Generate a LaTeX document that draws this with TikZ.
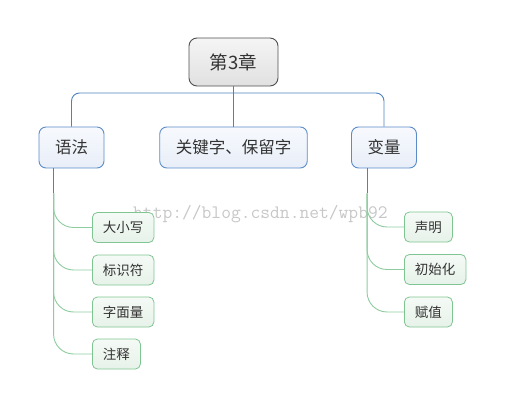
\documentclass[tikz,border=0pt]{standalone}
\usepackage{fontspec}
\newfontfamily\cjk{Noto Sans CJK SC}
\usetikzlibrary{calc}
\definecolor{txt}{HTML}{333333}
\definecolor{rootdraw}{HTML}{505050}
\definecolor{bluedraw}{HTML}{5B8CC8}
\definecolor{bluetop}{HTML}{F7F9FD}
\definecolor{bluebot}{HTML}{E8EEF8}
\definecolor{blueline}{HTML}{4F81BD}
\definecolor{greendraw}{HTML}{7FC592}
\definecolor{greenline}{HTML}{8DCC9E}
\definecolor{greentop}{HTML}{F5FAF6}
\definecolor{greenbot}{HTML}{E6F2E9}
\tikzset{
  rootbox/.style={draw=rootdraw, line width=0.9pt, rounded corners=8pt, top color=white!96!black, bottom color=white!88!black,
    minimum width=89pt, minimum height=48pt, inner sep=0pt, font=\cjk\fontsize{18.5}{20}\selectfont, text=txt},
  topicbox/.style={draw=bluedraw, line width=0.9pt, rounded corners=7pt, top color=bluetop, bottom color=bluebot,
    minimum height=41pt, inner xsep=16pt, inner ysep=0pt, font=\cjk\fontsize{16.5}{18}\selectfont, text=txt},
  leafbox/.style={draw=greendraw, line width=0.8pt, rounded corners=5pt, top color=greentop, bottom color=greenbot,
    minimum height=30pt, inner xsep=10.5pt, inner ysep=0pt, anchor=west, font=\cjk\fontsize{13.5}{15}\selectfont, text=txt},
  blueconn/.style={draw=blueline, line width=0.9pt},
  greenconn/.style={draw=greenline, line width=0.9pt, rounded corners=20pt},
}
\begin{document}
\begin{tikzpicture}[x=1pt,y=-1pt]
\useasboundingbox (0,0) rectangle (506,407);
\node[anchor=base west, text=black!22, font=\ttfamily\fontsize{19}{20}\selectfont, inner sep=0pt] (wm) at (133,218) {http://blog.csdn.net/wpb92};

\node[rootbox] (root) at (233.5,62) {第3章};
\node[topicbox] (yufa) at (71.5,147.5) {语法};
\node[topicbox] (gjz) at (233.5,147.5) {关键字、保留字};
\node[topicbox] (bl) at (384,147.5) {变量};

\coordinate (bar) at (233.5,93);
\draw[blueconn] (root.south) -- (bar) -- (gjz.north);
\draw[blueconn, rounded corners=8pt] (yufa.north) |- (bar) -| (bl.north);

\node[leafbox] (dxx) at (92,227.5) {大小写};
\node[leafbox] (bsf) at (92,270) {标识符};
\node[leafbox] (zml) at (92,312) {字面量};
\node[leafbox] (zs) at (92,354) {注释};

\node[leafbox] (sm) at (404,227) {声明};
\node[leafbox] (csh) at (404,269.5) {初始化};
\node[leafbox] (fz) at (404,312) {赋值};

\coordinate (ls) at ($(yufa.south west)+(15,0)$);
\coordinate (lm) at ($(ls)+(0,25)$);
\draw[blueconn] (ls) -- (lm);
\foreach \c in {dxx,bsf,zml,zs}{
  \draw[greenconn] (lm) |- (\c.west);
}
\coordinate (rs) at ($(bl.south west)+(16,0)$);
\coordinate (rm) at ($(rs)+(0,25)$);
\draw[blueconn] (rs) -- (rm);
\foreach \c in {sm,csh,fz}{
  \draw[greenconn] (rm) |- (\c.west);
}
\end{tikzpicture}
\end{document}
